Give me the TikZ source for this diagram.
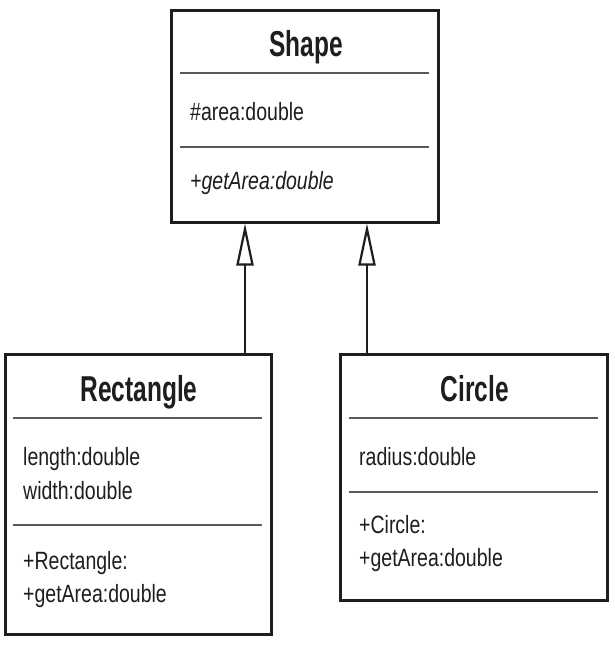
\documentclass[tikz,border=0pt]{standalone}
\usepackage{fontspec}
\setmainfont[FakeStretch=0.78]{Liberation Sans}
\newfontfamily\titlefont[FakeStretch=0.68]{Liberation Sans}
\usetikzlibrary{arrows.meta}
\definecolor{ink}{HTML}{1E1E1E}
\definecolor{sepc}{HTML}{5A5A5A}
\tikzset{
  classbox/.style={draw=ink, line width=3pt, inner sep=0pt, fill=white},
  sepline/.style={draw=sepc, line width=1.8pt},
  title/.style={anchor=base, inner sep=0pt, text=ink, font=\titlefont\bfseries\fontsize{36}{40}\selectfont},
  member/.style={anchor=base west, inner sep=0pt, text=ink, font=\fontsize{25}{34}\selectfont},
  inherit/.style={draw=ink, line width=2.4pt, -{Triangle[open, length=42pt, width=17pt, line width=2.2pt, fill=white]}}
}
\begin{document}
\begin{tikzpicture}[x=1pt,y=-1pt]
\useasboundingbox (0,0) rectangle (614,645);
% boxes
\node[classbox, minimum width=267pt, minimum height=212pt] (shape) at (304.5,116) {};
\node[classbox, minimum width=266pt, minimum height=280pt] (rect) at (138,494) {};
\node[classbox, minimum width=267pt, minimum height=246pt] (circ) at (473.5,477) {};
% Shape
\node[title] (shapet) at (306,56) {Shape};
\draw[sepline] (180,73) -- (429,73);
\node[member] (shapea) at (190,120) {\#area:double};
\draw[sepline] (180,147) -- (429,147);
\node[member, font=\itshape\fontsize{25}{34}\selectfont] (shapem) at (190,189) {+getArea:double};
% Rectangle
\node[title] (rectt) at (139,401) {Rectangle};
\draw[sepline] (13,418) -- (262,418);
\node[member] (recta1) at (23,465) {length:double};
\node[member] (recta2) at (23,499) {width:double};
\draw[sepline] (13,525) -- (262,525);
\node[member] (rectm1) at (23,569) {+Rectangle:};
\node[member] (rectm2) at (23,602) {+getArea:double};
% Circle
\node[title] (circt) at (475,401) {Circle};
\draw[sepline] (349,418) -- (598,418);
\node[member] (circa) at (359,465) {radius:double};
\draw[sepline] (349,492) -- (598,492);
\node[member] (circm1) at (359,533) {+Circle:};
\node[member] (circm2) at (359,566) {+getArea:double};
% connectors
\coordinate (c1) at (245,300);
\coordinate (c2) at (367,300);
\draw[inherit] (rect.north -| c1) -- (shape.south -| c1);
\draw[inherit] (circ.north -| c2) -- (shape.south -| c2);
\end{tikzpicture}
\end{document}
